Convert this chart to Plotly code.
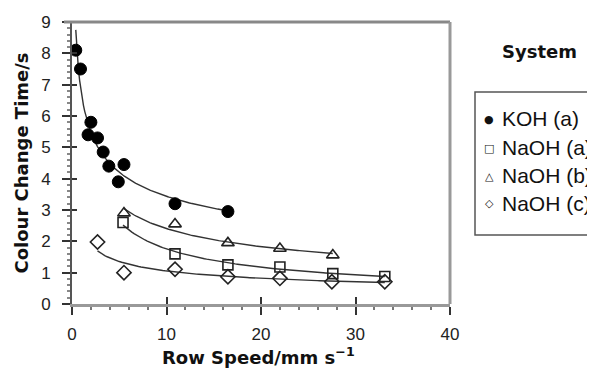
import numpy as np
import plotly.graph_objects as go

# ---- data ----
koh_a_x = [0.4, 0.9, 2.0, 1.7, 2.7, 3.3, 3.9, 5.5, 4.9, 10.9, 16.5]
koh_a_y = [8.1, 7.5, 5.8, 5.4, 5.3, 4.85, 4.4, 4.45, 3.9, 3.2, 2.95]

naoh_a_x = [5.4, 10.9, 16.5, 22.0, 27.6, 33.1]
naoh_a_y = [2.6, 1.6, 1.25, 1.18, 0.97, 0.88]

naoh_b_x = [5.5, 10.9, 16.5, 22.0, 27.6]
naoh_b_y = [2.9, 2.55, 1.95, 1.77, 1.56]

naoh_c_x = [2.7, 5.5, 10.9, 16.5, 22.0, 27.5, 33.1]
naoh_c_y = [1.98, 1.0, 1.11, 0.87, 0.82, 0.71, 0.71]

series_names = ["KOH (a)", "NaOH (a)", "NaOH (b)", "NaOH (c)"]
legend_symbols = ["\u25CF", "\u25A1", "\u25B3", "\u25C7"]

x_ticks = [0, 10, 20, 30, 40]
y_ticks = list(range(0, 10))

x_title = "<b>Row Speed/mm s<sup>\u22121</sup></b>"
y_title = "<b>Colour Change Time/s</b>"

# ---- figure (page body has an 8px margin, so the figure is offset) ----
OFF = 8
W, H = 595 - OFF, 376 - 2 * OFF
ML, MT = 72 - OFF, 22 - OFF
PW, PH = 378, 282
MR, MB = W - ML - PW, H - MT - PH


def px_x(p):  # page pixel -> paper x
    return (p - 72) / PW


def px_y(p):  # page pixel -> paper y
    return (304 - p) / PH


def power_fit(xs, ys):
    xs = np.asarray(xs, float)
    ys = np.asarray(ys, float)
    b, ln_a = np.polyfit(np.log(xs), np.log(ys), 1)
    xx = np.linspace(xs.min(), xs.max(), 120)
    return xx, np.exp(ln_a) * xx ** b


fig = go.Figure()

series = [
    (koh_a_x, koh_a_y, dict(symbol="circle", size=12, color="black",
                            line=dict(color="black", width=1))),
    (naoh_a_x, naoh_a_y, dict(symbol="square-open", size=10, color="#222",
                              line=dict(color="#222", width=1.6))),
    (naoh_b_x, naoh_b_y, dict(symbol="triangle-up-open", size=11, color="#222",
                              line=dict(color="#222", width=1.6))),
    (naoh_c_x, naoh_c_y, dict(symbol="diamond-open", size=11, color="#222",
                              line=dict(color="#222", width=1.6))),
]

for (xs, ys, mk), name in zip(series, series_names):
    fx, fy = power_fit(xs, ys)
    fig.add_trace(go.Scatter(x=fx, y=fy, mode="lines",
                             line=dict(color="#333", width=1.4),
                             showlegend=False, hoverinfo="skip"))
    fig.add_trace(go.Scatter(x=xs, y=ys, mode="markers", name=name,
                             marker=mk, showlegend=False))

# invisible trace to carry the overlay axes (inside half of crossing ticks)
fig.add_trace(go.Scatter(x=[], y=[], xaxis="x2", yaxis="y2", showlegend=False))

tick_font = dict(family="Liberation Sans, Arial, sans-serif", size=17, color="#222")
title_font = dict(family="DejaVu Sans, sans-serif", size=18, color="#111")

fig.update_layout(
    width=W, height=H, autosize=False,
    margin=dict(l=ML, r=MR, t=MT, b=MB, pad=0),
    paper_bgcolor="white", plot_bgcolor="white",
    showlegend=False,
    xaxis=dict(range=[0, 40], tickvals=x_ticks, ticktext=[str(v) for v in x_ticks],
               ticks="outside", ticklen=8, tickwidth=1.5, tickcolor="#333",
               minor=dict(dtick=2, ticks="outside", ticklen=3, tickcolor="#777"),
               showline=True, linecolor="#999", linewidth=3,
               showgrid=False, zeroline=False, automargin=False,
               tickfont=tick_font, ticklabelstandoff=5),
    yaxis=dict(range=[0, 9], tickvals=y_ticks, ticktext=[str(v) for v in y_ticks],
               ticks="outside", ticklen=8, tickwidth=1.5, tickcolor="#333",
               minor=dict(dtick=0.2, ticks="outside", ticklen=3, tickcolor="#888"),
               showline=True, linecolor="#555", linewidth=2,
               showgrid=False, zeroline=False, automargin=False,
               tickfont=tick_font, ticklabelstandoff=8,
               title=dict(text=y_title, font=title_font, standoff=8)),
    xaxis2=dict(range=[0, 40], overlaying="x", anchor="y", tickvals=x_ticks,
                ticks="inside", ticklen=7, tickwidth=1.5, tickcolor="#333",
                showticklabels=False, showline=False, showgrid=False,
                zeroline=False, automargin=False),
    yaxis2=dict(range=[0, 9], overlaying="y", anchor="x", tickvals=y_ticks,
                ticks="inside", ticklen=5, tickwidth=1.5, tickcolor="#333",
                showticklabels=False, showline=False, showgrid=False,
                zeroline=False, automargin=False),
)

# x-axis title placed as an annotation (standoff is ignored without automargin)
fig.add_annotation(text=x_title, xref="paper", yref="paper",
                   x=px_x(258), y=px_y(356), xanchor="center", yanchor="middle",
                   showarrow=False, font=title_font)

# frame (top and right) in grey
fig.add_shape(type="line", xref="paper", yref="paper", x0=px_x(64), x1=1, y0=1, y1=1,
              line=dict(color="#888", width=3))
fig.add_shape(type="line", xref="paper", yref="paper", x0=1, x1=1, y0=0, y1=1,
              line=dict(color="#999", width=3))

# legend box (manual, clipped at the right edge as in the reference)
fig.add_shape(type="rect", xref="paper", yref="paper",
              x0=px_x(475), x1=px_x(610), y0=px_y(235), y1=px_y(92),
              line=dict(color="#555", width=1.5), fillcolor="rgba(0,0,0,0)")

fig.add_annotation(text="<b>System</b>", xref="paper", yref="paper",
                   x=px_x(539), y=px_y(51), xanchor="center", yanchor="middle",
                   showarrow=False, font=dict(family="DejaVu Sans, sans-serif",
                                              size=18, color="#111"))

legend_rows = [118, 147, 175, 203]
for name, sym, row in zip(series_names, legend_symbols, legend_rows):
    fig.add_annotation(text=sym, xref="paper", yref="paper",
                       x=px_x(489), y=px_y(row + 1), xanchor="center", yanchor="middle",
                       showarrow=False,
                       font=dict(family="DejaVu Sans, sans-serif", size=11, color="#111"))
    fig.add_annotation(text=name, xref="paper", yref="paper",
                       x=px_x(500), y=px_y(row), xanchor="left", yanchor="middle",
                       showarrow=False,
                       font=dict(family="Liberation Sans, Arial, sans-serif",
                                 size=21, color="#111"))

fig.write_html("out.html")
